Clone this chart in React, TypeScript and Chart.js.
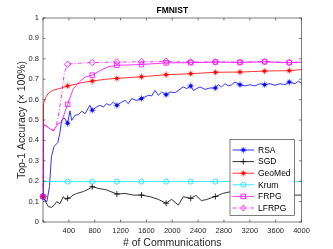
import React, { useEffect, useRef } from 'react';
import { Chart, registerables } from 'chart.js';
Chart.register(...registerables);

const chartTitle = 'FMNIST';
const xTitle = '# of Communications';
const yTitle = 'Top-1 Accuracy (\u00d7 100%)';
const xTicks = [0, 400, 800, 1200, 1600, 2000, 2400, 2800, 3200, 3600, 4000];
const yTicks = [0, 0.1, 0.2, 0.3, 0.4, 0.5, 0.6, 0.7, 0.8, 0.9, 1];
const markerX = [0, 381, 762, 1143, 1524, 1905, 2286, 2667, 3048, 3429, 3810];

const seriesNames = ['RSA', 'SGD', 'GeoMed', 'Krum', 'FRPG', 'LFRPG'];

const rsaX = [0, 30, 60, 100, 130, 170, 230, 263, 290, 330, 381, 418, 444, 495, 547, 599, 650, 727, 762, 831, 882, 933, 986, 1037, 1088, 1143, 1218, 1269, 1320, 1372, 1450, 1524, 1578, 1630, 1682, 1733, 1785, 1836, 1905, 1965, 2043, 2094, 2171, 2223, 2286, 2326, 2378, 2430, 2507, 2584, 2667, 2713, 2764, 2816, 2867, 2919, 2971, 3048, 3125, 3203, 3280, 3358, 3429, 3512, 3590, 3667, 3745, 3810, 3900, 3951, 4000];
const rsaY = [0.125, 0.108, 0.1, 0.173, 0.32, 0.37, 0.39, 0.44, 0.5, 0.51, 0.484, 0.545, 0.498, 0.523, 0.526, 0.543, 0.531, 0.572, 0.548, 0.564, 0.572, 0.564, 0.58, 0.572, 0.588, 0.572, 0.588, 0.596, 0.58, 0.605, 0.596, 0.605, 0.613, 0.621, 0.618, 0.645, 0.621, 0.637, 0.624, 0.637, 0.634, 0.645, 0.662, 0.654, 0.667, 0.645, 0.654, 0.662, 0.65, 0.657, 0.657, 0.673, 0.662, 0.678, 0.667, 0.673, 0.686, 0.673, 0.667, 0.673, 0.667, 0.678, 0.673, 0.678, 0.67, 0.678, 0.673, 0.686, 0.678, 0.69, 0.68];

const sgdX = [0, 40, 82, 135, 180, 212, 263, 314, 350, 381, 418, 469, 521, 624, 727, 762, 851, 986, 1143, 1269, 1397, 1524, 1656, 1784, 1905, 1991, 2094, 2171, 2286, 2367, 2450, 2530, 2600, 2667, 2780, 2894, 3048, 3250, 3429, 3600, 3810, 4000];
const sgdY = [0.125, 0.1, 0.075, 0.072, 0.085, 0.1, 0.09, 0.124, 0.11, 0.116, 0.12, 0.132, 0.14, 0.149, 0.165, 0.173, 0.165, 0.157, 0.137, 0.14, 0.132, 0.132, 0.124, 0.111, 0.092, 0.111, 0.083, 0.124, 0.116, 0.13, 0.105, 0.11, 0.118, 0.125, 0.14, 0.148, 0.145, 0.14, 0.138, 0.135, 0.132, 0.132];

const geoX = [0, 4, 12, 40, 80, 150, 263, 381, 500, 600, 762, 950, 1143, 1524, 1905, 2286, 2667, 3048, 3429, 3810, 4000];
const geoY = [0.125, 0.45, 0.58, 0.61, 0.63, 0.645, 0.655, 0.667, 0.675, 0.683, 0.691, 0.699, 0.704, 0.712, 0.722, 0.727, 0.734, 0.735, 0.74, 0.742, 0.747];

const krumX = [0, 5, 381, 762, 1143, 1524, 1905, 2286, 2667, 3048, 3429, 3810, 4000];
const krumY = [0.125, 0.198, 0.198, 0.198, 0.198, 0.198, 0.198, 0.198, 0.198, 0.198, 0.198, 0.198, 0.198];

const frpgX = [0, 8, 50, 120, 170, 230, 289, 330, 381, 469, 573, 650, 762, 900, 1000, 1143, 1524, 1905, 2286, 2667, 3048, 3429, 3810, 4000];
const frpgY = [0.125, 0.48, 0.47, 0.455, 0.45, 0.48, 0.49, 0.53, 0.577, 0.653, 0.69, 0.71, 0.72, 0.745, 0.76, 0.768, 0.772, 0.78, 0.781, 0.784, 0.782, 0.785, 0.781, 0.783];

const lfrpgX = [0, 8, 60, 110, 165, 210, 250, 290, 330, 381, 450, 550, 762, 900, 1143, 1300, 1524, 1700, 1905, 2100, 2286, 2500, 2667, 2850, 3048, 3250, 3429, 3600, 3810, 4000];
const lfrpgY = [0.125, 0.475, 0.47, 0.455, 0.446, 0.48, 0.54, 0.63, 0.73, 0.773, 0.776, 0.778, 0.782, 0.782, 0.785, 0.784, 0.786, 0.785, 0.788, 0.785, 0.785, 0.784, 0.785, 0.784, 0.784, 0.785, 0.787, 0.784, 0.782, 0.784];

const seriesX = [rsaX, sgdX, geoX, krumX, frpgX, lfrpgX];
const seriesY = [rsaY, sgdY, geoY, krumY, frpgY, lfrpgY];

// styles
const seriesColors = ['#0000ff', '#000000', '#ff0000', '#00e5ff', '#ff00ff', '#ff00ff'];
const seriesMarkers = ['star', 'cross', 'star', 'circle', 'rect', 'diamond'];
const seriesDash = [[], [], [], [], [], [4, 2, 1, 2]];
const FONT = '"Liberation Sans", Arial, Helvetica, sans-serif';
const TEXT = '#262626';

function makeStar(color: string) {
  const c = document.createElement('canvas');
  c.width = 7;
  c.height = 7;
  const g = c.getContext('2d')!;
  g.strokeStyle = color;
  g.fillStyle = color;
  g.lineWidth = 0.7;
  const r = 3, cx = 3.5, cy = 3.5, d = 2.1;
  g.beginPath();
  g.moveTo(cx - r, cy); g.lineTo(cx + r, cy);
  g.moveTo(cx, cy - r); g.lineTo(cx, cy + r);
  g.moveTo(cx - d, cy - d); g.lineTo(cx + d, cy + d);
  g.moveTo(cx - d, cy + d); g.lineTo(cx + d, cy - d);
  g.stroke();
  g.beginPath();
  g.arc(cx, cy, 1.8, 0, Math.PI * 2);
  g.fill();
  return c;
}

function drawMarker(ctx: CanvasRenderingContext2D, kind: string, color: string, x: number, y: number, star: any) {
  ctx.save();
  ctx.strokeStyle = color;
  ctx.lineWidth = 0.8;
  ctx.setLineDash([]);
  if (kind === 'star') {
    ctx.drawImage(star, x - star.width / 2, y - star.height / 2);
  } else if (kind === 'cross') {
    ctx.beginPath();
    ctx.moveTo(x - 3, y); ctx.lineTo(x + 3, y);
    ctx.moveTo(x, y - 3); ctx.lineTo(x, y + 3);
    ctx.stroke();
  } else if (kind === 'circle') {
    ctx.beginPath();
    ctx.arc(x, y, 2.5, 0, Math.PI * 2);
    ctx.stroke();
  } else if (kind === 'rect') {
    ctx.strokeRect(x - 2.3, y - 2.3, 4.6, 4.6);
  } else if (kind === 'diamond') {
    ctx.beginPath();
    ctx.moveTo(x, y - 3); ctx.lineTo(x + 3, y); ctx.lineTo(x, y + 3); ctx.lineTo(x - 3, y);
    ctx.closePath();
    ctx.stroke();
  }
  ctx.restore();
}

export default function App() {
  const ref = useRef<HTMLCanvasElement>(null);
  useEffect(() => {
    const stars = seriesColors.map((c) => makeStar(c));
    const styleFor = (i: number): any => {
      const m = seriesMarkers[i];
      if (m === 'star') return stars[i];
      if (m === 'cross') return 'cross';
      if (m === 'circle') return 'circle';
      if (m === 'rect') return 'rect';
      return 'rectRot';
    };
    const radiusFor = (i: number) => {
      const m = seriesMarkers[i];
      if (m === 'cross') return 3;
      if (m === 'circle') return 2.5;
      if (m === 'rect') return 3.2;
      if (m === 'diamond') return 3.2;
      return 3;
    };
    const datasets = seriesNames.map((name, i) => ({
      label: name,
      data: seriesX[i].map((x, k) => ({ x, y: seriesY[i][k] })),
      borderColor: seriesColors[i],
      backgroundColor: 'rgba(0,0,0,0)',
      pointBackgroundColor: 'rgba(0,0,0,0)',
      pointBorderColor: seriesColors[i],
      pointBorderWidth: 0.8,
      pointStyle: styleFor(i),
      pointRadius: (ctx: any) => (ctx.raw && markerX.includes(ctx.raw.x) ? radiusFor(i) : 0),
      borderWidth: 0.8,
      borderDash: seriesDash[i],
      tension: 0,
      fill: false,
      clip: false as any,
      order: 5 - i,
    }));

    const framePlugin = {
      id: 'frame',
      afterDraw(chart: any) {
        const { ctx, chartArea: a, scales } = chart;
        ctx.save();
        ctx.strokeStyle = TEXT;
        ctx.lineWidth = 0.6;
        ctx.setLineDash([]);
        ctx.strokeRect(a.left, a.top, a.right - a.left, a.bottom - a.top);
        const tl = 2.5;
        ctx.beginPath();
        for (const v of xTicks) {
          const px = scales.x.getPixelForValue(v);
          ctx.moveTo(px, a.bottom); ctx.lineTo(px, a.bottom - tl);
          ctx.moveTo(px, a.top); ctx.lineTo(px, a.top + tl);
        }
        for (const v of yTicks) {
          const py = scales.y.getPixelForValue(v);
          ctx.moveTo(a.left, py); ctx.lineTo(a.left + tl, py);
          ctx.moveTo(a.right, py); ctx.lineTo(a.right - tl, py);
        }
        ctx.stroke();
        // title
        ctx.fillStyle = '#000';
        ctx.font = `bold 8.5px ${FONT}`;
        ctx.textAlign = 'center';
        ctx.textBaseline = 'middle';
        ctx.fillText(chartTitle, (a.left + a.right) / 2, 11);
        // legend
        const lx = 230, ly = 139.5, lw = 64.5, lh = 76;
        ctx.fillStyle = '#fff';
        ctx.fillRect(lx, ly, lw, lh);
        ctx.strokeStyle = TEXT;
        ctx.lineWidth = 0.6;
        ctx.strokeRect(lx, ly, lw, lh);
        ctx.font = `8.5px ${FONT}`;
        ctx.textAlign = 'left';
        ctx.textBaseline = 'middle';
        seriesNames.forEach((name, i) => {
          const y = 150 + i * 11.6;
          ctx.save();
          ctx.strokeStyle = seriesColors[i];
          ctx.lineWidth = 0.8;
          ctx.setLineDash(seriesDash[i]);
          ctx.beginPath();
          ctx.moveTo(232.5, y); ctx.lineTo(254, y);
          ctx.stroke();
          ctx.restore();
          drawMarker(ctx, seriesMarkers[i], seriesColors[i], 243.3, y, stars[i]);
          ctx.fillStyle = '#000';
          ctx.fillText(name, 258, y + 0.5);
        });
        ctx.restore();
      },
    };

    const chart = new Chart(ref.current!, {
      type: 'line',
      data: { datasets: datasets as any },
      options: {
        animation: false,
        responsive: false,
        maintainAspectRatio: false,
        devicePixelRatio: 1,
        layout: { padding: { top: 18, right: 31.5, left: 0, bottom: 0 } },
        plugins: { legend: { display: false }, tooltip: { enabled: false }, title: { display: false } },
        scales: {
          x: {
            type: 'linear',
            min: 0,
            max: 4000,
            afterBuildTicks: (s: any) => { s.ticks = xTicks.map((v) => ({ value: v })); },
            afterFit: (s: any) => { s.height = 27; },
            ticks: {
              autoSkip: false,
              maxRotation: 0,
              padding: 4,
              color: TEXT,
              font: { family: FONT, size: 7.5 },
              callback: (v: any) => (Number(v) === 0 ? '' : String(v)),
            },
            grid: { display: false, drawTicks: false },
            border: { display: false },
            title: { display: true, text: xTitle, color: TEXT, font: { family: FONT, size: 10.5 }, padding: { top: 0, bottom: 0 } },
          },
          y: {
            type: 'linear',
            min: 0,
            max: 1,
            afterBuildTicks: (s: any) => { s.ticks = yTicks.map((v) => ({ value: v })); },
            afterFit: (s: any) => { s.width = 43; },
            ticks: {
              padding: 4,
              color: TEXT,
              font: { family: FONT, size: 7.5 },
              callback: (v: any) => String(Number(Number(v).toFixed(1))),
            },
            grid: { display: false, drawTicks: false },
            border: { display: false },
            title: { display: true, text: yTitle, color: TEXT, font: { family: FONT, size: 10.5 }, padding: { top: 16, bottom: 0 } },
          },
        },
      },
      plugins: [framePlugin],
    });
    return () => chart.destroy();
  }, []);
  return (
    <div style={{ position: 'absolute', left: 0, top: 0, width: 333, height: 249, background: '#fff' }}>
      <canvas ref={ref} width={333} height={249} style={{ width: 333, height: 249, display: 'block' }} />
    </div>
  );
}
